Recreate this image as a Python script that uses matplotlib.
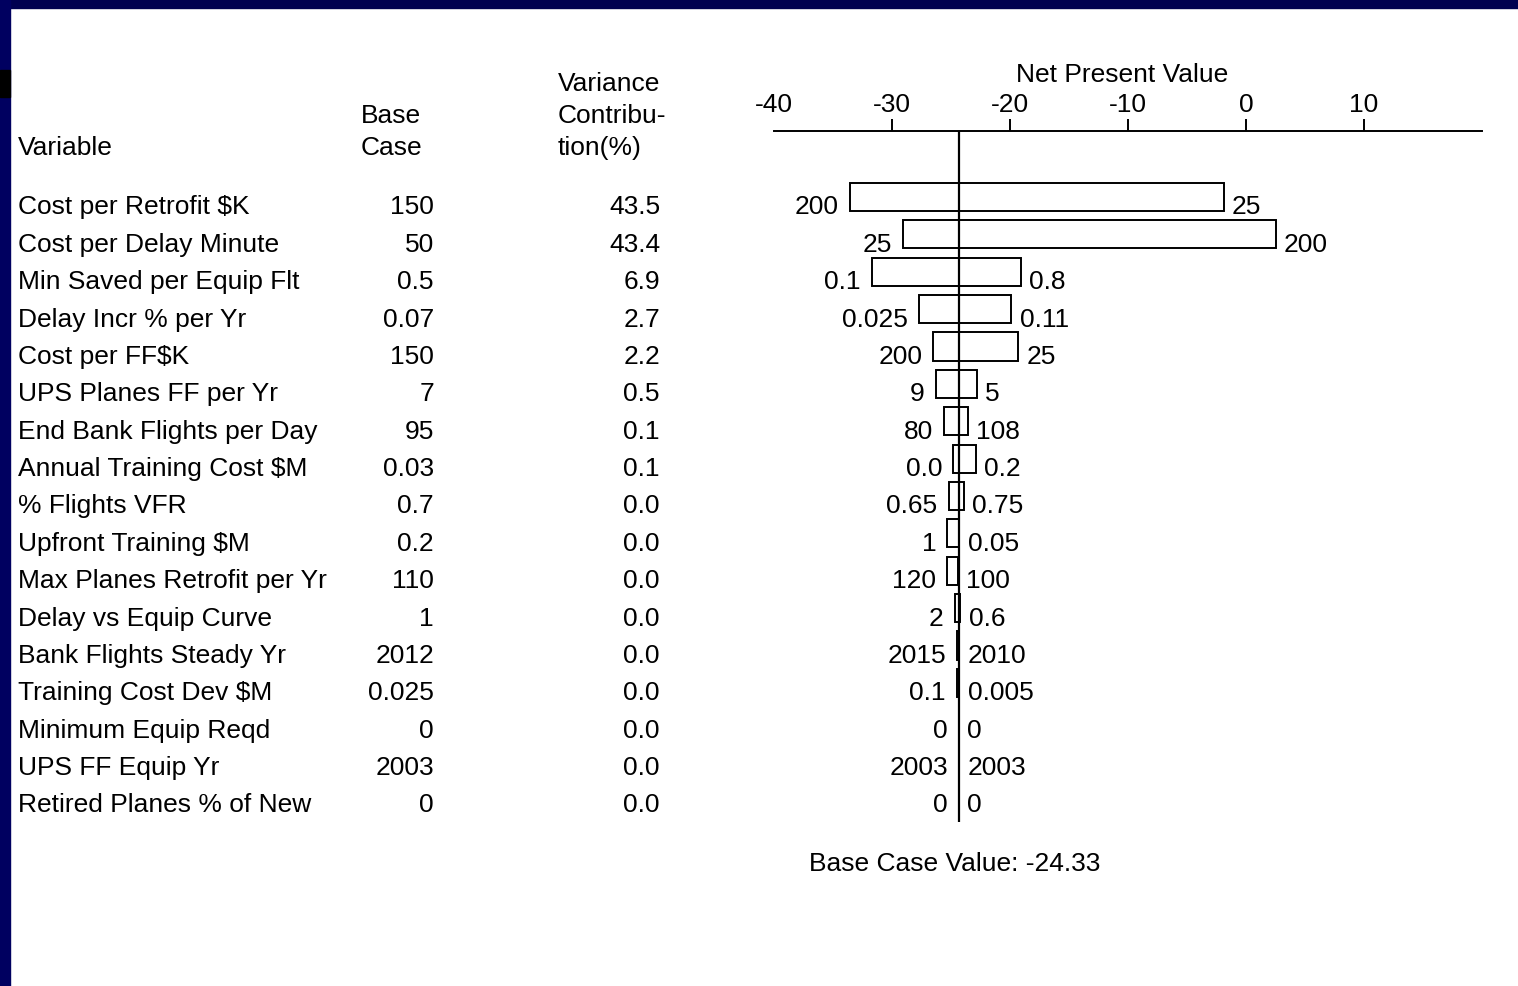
#! /usr/bin/env python3

#Tornado chart of NPV sensitivity, with the variable table on the left
import matplotlib
matplotlib.use("Agg")
import matplotlib.pyplot as plt
from matplotlib.patches import Rectangle
from matplotlib import transforms

plt.rcParams['font.family'] = ['Liberation Sans', 'DejaVu Sans']

#Data
variables = ["Cost per Retrofit $K", "Cost per Delay Minute", "Min Saved per Equip Flt",
             "Delay Incr % per Yr", "Cost per FF$K", "UPS Planes FF per Yr",
             "End Bank Flights per Day", "Annual Training Cost $M", "% Flights VFR",
             "Upfront Training $M", "Max Planes Retrofit per Yr", "Delay vs Equip Curve",
             "Bank Flights Steady Yr", "Training Cost Dev $M", "Minimum Equip Reqd",
             "UPS FF Equip Yr", "Retired Planes % of New"]
base_case = ["150", "50", "0.5", "0.07", "150", "7", "95", "0.03", "0.7", "0.2",
             "110", "1", "2012", "0.025", "0", "2003", "0"]
variance = ["43.5", "43.4", "6.9", "2.7", "2.2", "0.5", "0.1", "0.1", "0.0", "0.0",
            "0.0", "0.0", "0.0", "0.0", "0.0", "0.0", "0.0"]
left_inputs = ["200", "25", "0.1", "0.025", "200", "9", "80", "0.0", "0.65", "1",
               "120", "2", "2015", "0.1", "0", "2003", "0"]
right_inputs = ["25", "200", "0.8", "0.11", "25", "5", "108", "0.2", "0.75", "0.05",
                "100", "0.6", "2010", "0.005", "0", "2003", "0"]
npv_low = [-33.6, -29.1, -31.7, -27.7, -26.5, -26.3, -25.6, -24.8, -25.2, -25.3,
           -25.3, -24.7, -24.5, -24.5, -24.33, -24.33, -24.33]
npv_high = [-1.9, 2.5, -19.1, -19.9, -19.3, -22.8, -23.6, -22.9, -23.9, -24.3,
            -24.4, -24.2, -24.3, -24.3, -24.33, -24.33, -24.33]
base_value = -24.33
npv_ticks = [-40, -30, -20, -10, 0, 10]

W, H = 1518, 986
FS = 19

def fx(px):
    return px / W

def fy(py):
    return 1 - py / H

fig = plt.figure(figsize=(W / 100, H / 100), dpi=100)
fig.patch.set_facecolor("white")

#Navy slide border on top and left
fig.patches.append(Rectangle((0, fy(8)), 1, 8 / H, transform=fig.transFigure,
                             color="#000050", zorder=0))
fig.patches.append(Rectangle((0, 0), fx(10), 1, transform=fig.transFigure,
                             color="#000060", zorder=0))
fig.patches.append(Rectangle((0, fy(97)), fx(10), 27 / H, transform=fig.transFigure,
                             color="black", zorder=0))

#Axes placed so the NPV scale runs from -40 to 20
top_px, bot_px = 131, 830
row0, step = 197, 37.375
ax = fig.add_axes([fx(774), fy(bot_px), fx(1482 - 774), (bot_px - top_px) / H])
ax.set_xlim(-40, 20)
ax.set_ylim((bot_px - row0) / step, (top_px - row0) / step)
ax.set_facecolor("none")

rows = list(range(len(variables)))
widths = [h - l for l, h in zip(npv_low, npv_high)]
ax.barh(rows, widths, left=npv_low, height=0.75, color="white",
        edgecolor="black", linewidth=1.4, zorder=2)
ax.vlines(base_value, (top_px - row0) / step, (822 - row0) / step,
          color="black", linewidth=1.6, zorder=3)

#Input values either side of the bars
off = 0.28
for i in rows:
    ax.annotate(left_inputs[i], (npv_low[i], i + off), xytext=(-8, 0),
                textcoords="offset points", ha="right", va="center", fontsize=FS)
    ax.annotate(right_inputs[i], (npv_high[i], i + off), xytext=(6, 0),
                textcoords="offset points", ha="left", va="center", fontsize=FS)

#Axis line on top with upward ticks
for s in ["right", "bottom", "left"]:
    ax.spines[s].set_visible(False)
ax.spines["top"].set_linewidth(1.4)
ax.xaxis.tick_top()
ax.set_xticks(npv_ticks)
ax.set_xticklabels([str(t) for t in npv_ticks])
ax.tick_params(axis="x", direction="out", length=9, width=1.4, pad=1, labelsize=FS)
ax.xaxis.get_major_ticks()[0].tick2line.set_visible(False)
ax.set_yticks([])

#Table columns on the left
tr = transforms.blended_transform_factory(fig.transFigure, ax.transData)
for i in rows:
    fig.text(fx(18), i + off, variables[i], transform=tr, ha="left", va="center", fontsize=FS)
    fig.text(fx(434), i + off, base_case[i], transform=tr, ha="right", va="center", fontsize=FS)
    fig.text(fx(660), i + off, variance[i], transform=tr, ha="right", va="center", fontsize=FS)

#Headers
fig.text(fx(18), fy(148), "Variable", ha="left", va="center", fontsize=FS)
fig.text(fx(361), fy(116), "Base", ha="left", va="center", fontsize=FS)
fig.text(fx(361), fy(148), "Case", ha="left", va="center", fontsize=FS)
fig.text(fx(558), fy(84), "Variance", ha="left", va="center", fontsize=FS)
fig.text(fx(558), fy(116), "Contribu-", ha="left", va="center", fontsize=FS)
fig.text(fx(558), fy(148), "tion(%)", ha="left", va="center", fontsize=FS)
fig.text(fx(1122), fy(75), "Net Present Value", ha="center", va="center", fontsize=FS)
fig.text(fx(955), fy(864), "Base Case Value: {:.2f}".format(base_value),
         ha="center", va="center", fontsize=FS)

fig.savefig("out.png", dpi=100, facecolor=fig.get_facecolor())
